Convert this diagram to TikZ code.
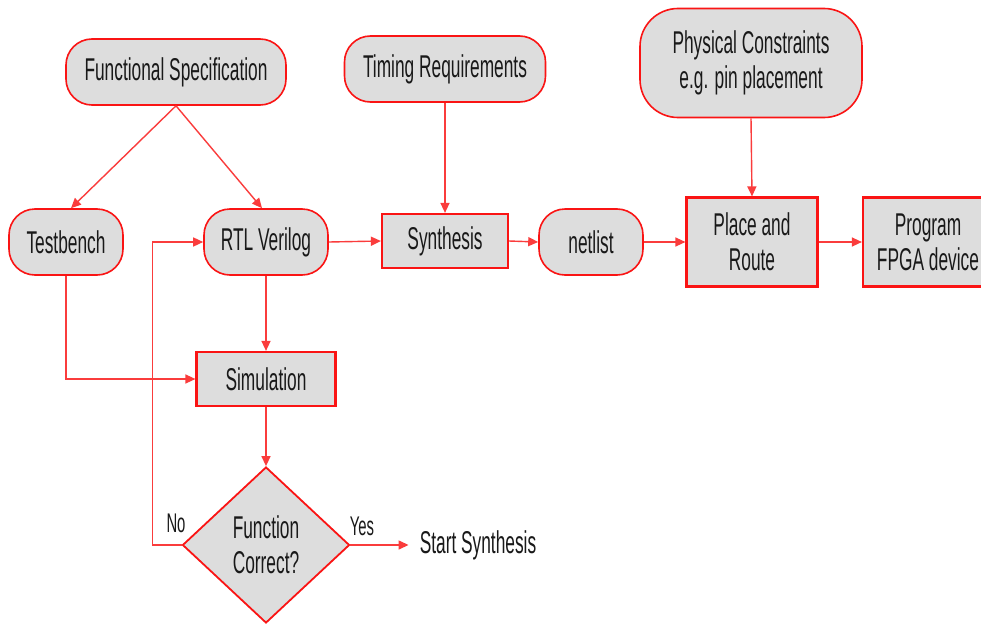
\documentclass[tikz,border=0pt]{standalone}
\usepackage{fontspec}
\setmainfont{Liberation Sans}[FakeStretch=0.55]
\usetikzlibrary{shapes.geometric,arrows.meta,calc}
\definecolor{boxgray}{RGB}{221,221,221}
\definecolor{boxred}{RGB}{250,20,20}
\definecolor{linered}{RGB}{250,60,60}
\definecolor{txt}{RGB}{25,25,25}
\tikzset{
  base/.style={draw=boxred, fill=boxgray, text=txt, align=center, inner sep=0pt,
    font=\fontsize{31.5}{35}\selectfont},
  pill/.style={base, line width=1.6pt, rounded corners=26pt},
  rectbox/.style={base, line width=2.2pt},
  decision/.style={base, shape=diamond, line width=1.8pt, aspect=1.08},
  plain/.style={text=txt, inner sep=0pt, font=\fontsize{31.5}{35}\selectfont},
  conn/.style={draw=linered, line width=1.4pt, -{Triangle[length=10pt,width=9pt]}},
}
\begin{document}
\begin{tikzpicture}[x=1pt,y=-1pt]
\useasboundingbox (0,0) rectangle (981,626);
\clip (0,0) rectangle (981,626);
\fill[white] (0,0) rectangle (981,626);

% sources
\node[pill, minimum width=220pt, minimum height=66pt] (fs) at (176,72) {Functional Specification};
\node[pill, minimum width=201pt, minimum height=66pt] (tr) at (445,69) {Timing Requirements};
\node[pill, minimum width=222pt, minimum height=109pt, rounded corners=38pt] (pc) at (751,63) {Physical Constraints\\e.g. pin placement};

% main row
\node[pill, minimum width=114pt, minimum height=66pt] (tb) at (66,242) {Testbench};
\node[pill, minimum width=124pt, minimum height=66pt] (rtl) at (266,242) {RTL Verilog};
\node[rectbox, minimum width=126pt, minimum height=54pt] (syn) at (445,241) {Synthesis};
\node[pill, minimum width=104pt, minimum height=66pt] (nl) at (591,242) {netlist};
\node[rectbox, minimum width=131pt, minimum height=89pt] (pr) at (752,242) {Place and\\Route};
\node[rectbox, minimum width=130pt, minimum height=89pt] (pg) at (928,242) {Program\\FPGA device};

% verification loop
\node[rectbox, minimum width=139pt, minimum height=54pt] (sim) at (266,379) {Simulation};
\node[decision, minimum width=167pt, minimum height=156pt] (dec) at (266,545) {Function\\Correct?};
\node[plain] (ss) at (478,545) {Start Synthesis};
\node[plain, font=\fontsize{27}{30}\selectfont] (no) at (176,523) {No};
\node[plain, font=\fontsize{27}{30}\selectfont] (yes) at (362,526) {Yes};

% connectors
\draw[conn] (fs.south) -- ([xshift=5pt]tb.north);
\draw[conn] (fs.south) -- ([xshift=-4pt]rtl.north);
\draw[conn] (tr.south) -- (syn.north);
\draw[conn] (pc.south) -- (pr.north);
\draw[conn] (rtl.east) -- (syn.west);
\draw[conn] (syn.east) -- (nl.west);
\draw[conn] (nl.east) -- (pr.west);
\draw[conn] (pr.east) -- (pg.west);
\draw[conn] (rtl.south) -- (sim.north);
\draw[conn] (tb.south) |- (sim.west);
\draw[conn] (sim.south) -- (dec.north);
\draw[conn] (dec.west) -- ++(-29,0) |- (rtl.west);
\draw[conn] (dec.east) -- ([xshift=-11pt]ss.west);
\end{tikzpicture}
\end{document}
